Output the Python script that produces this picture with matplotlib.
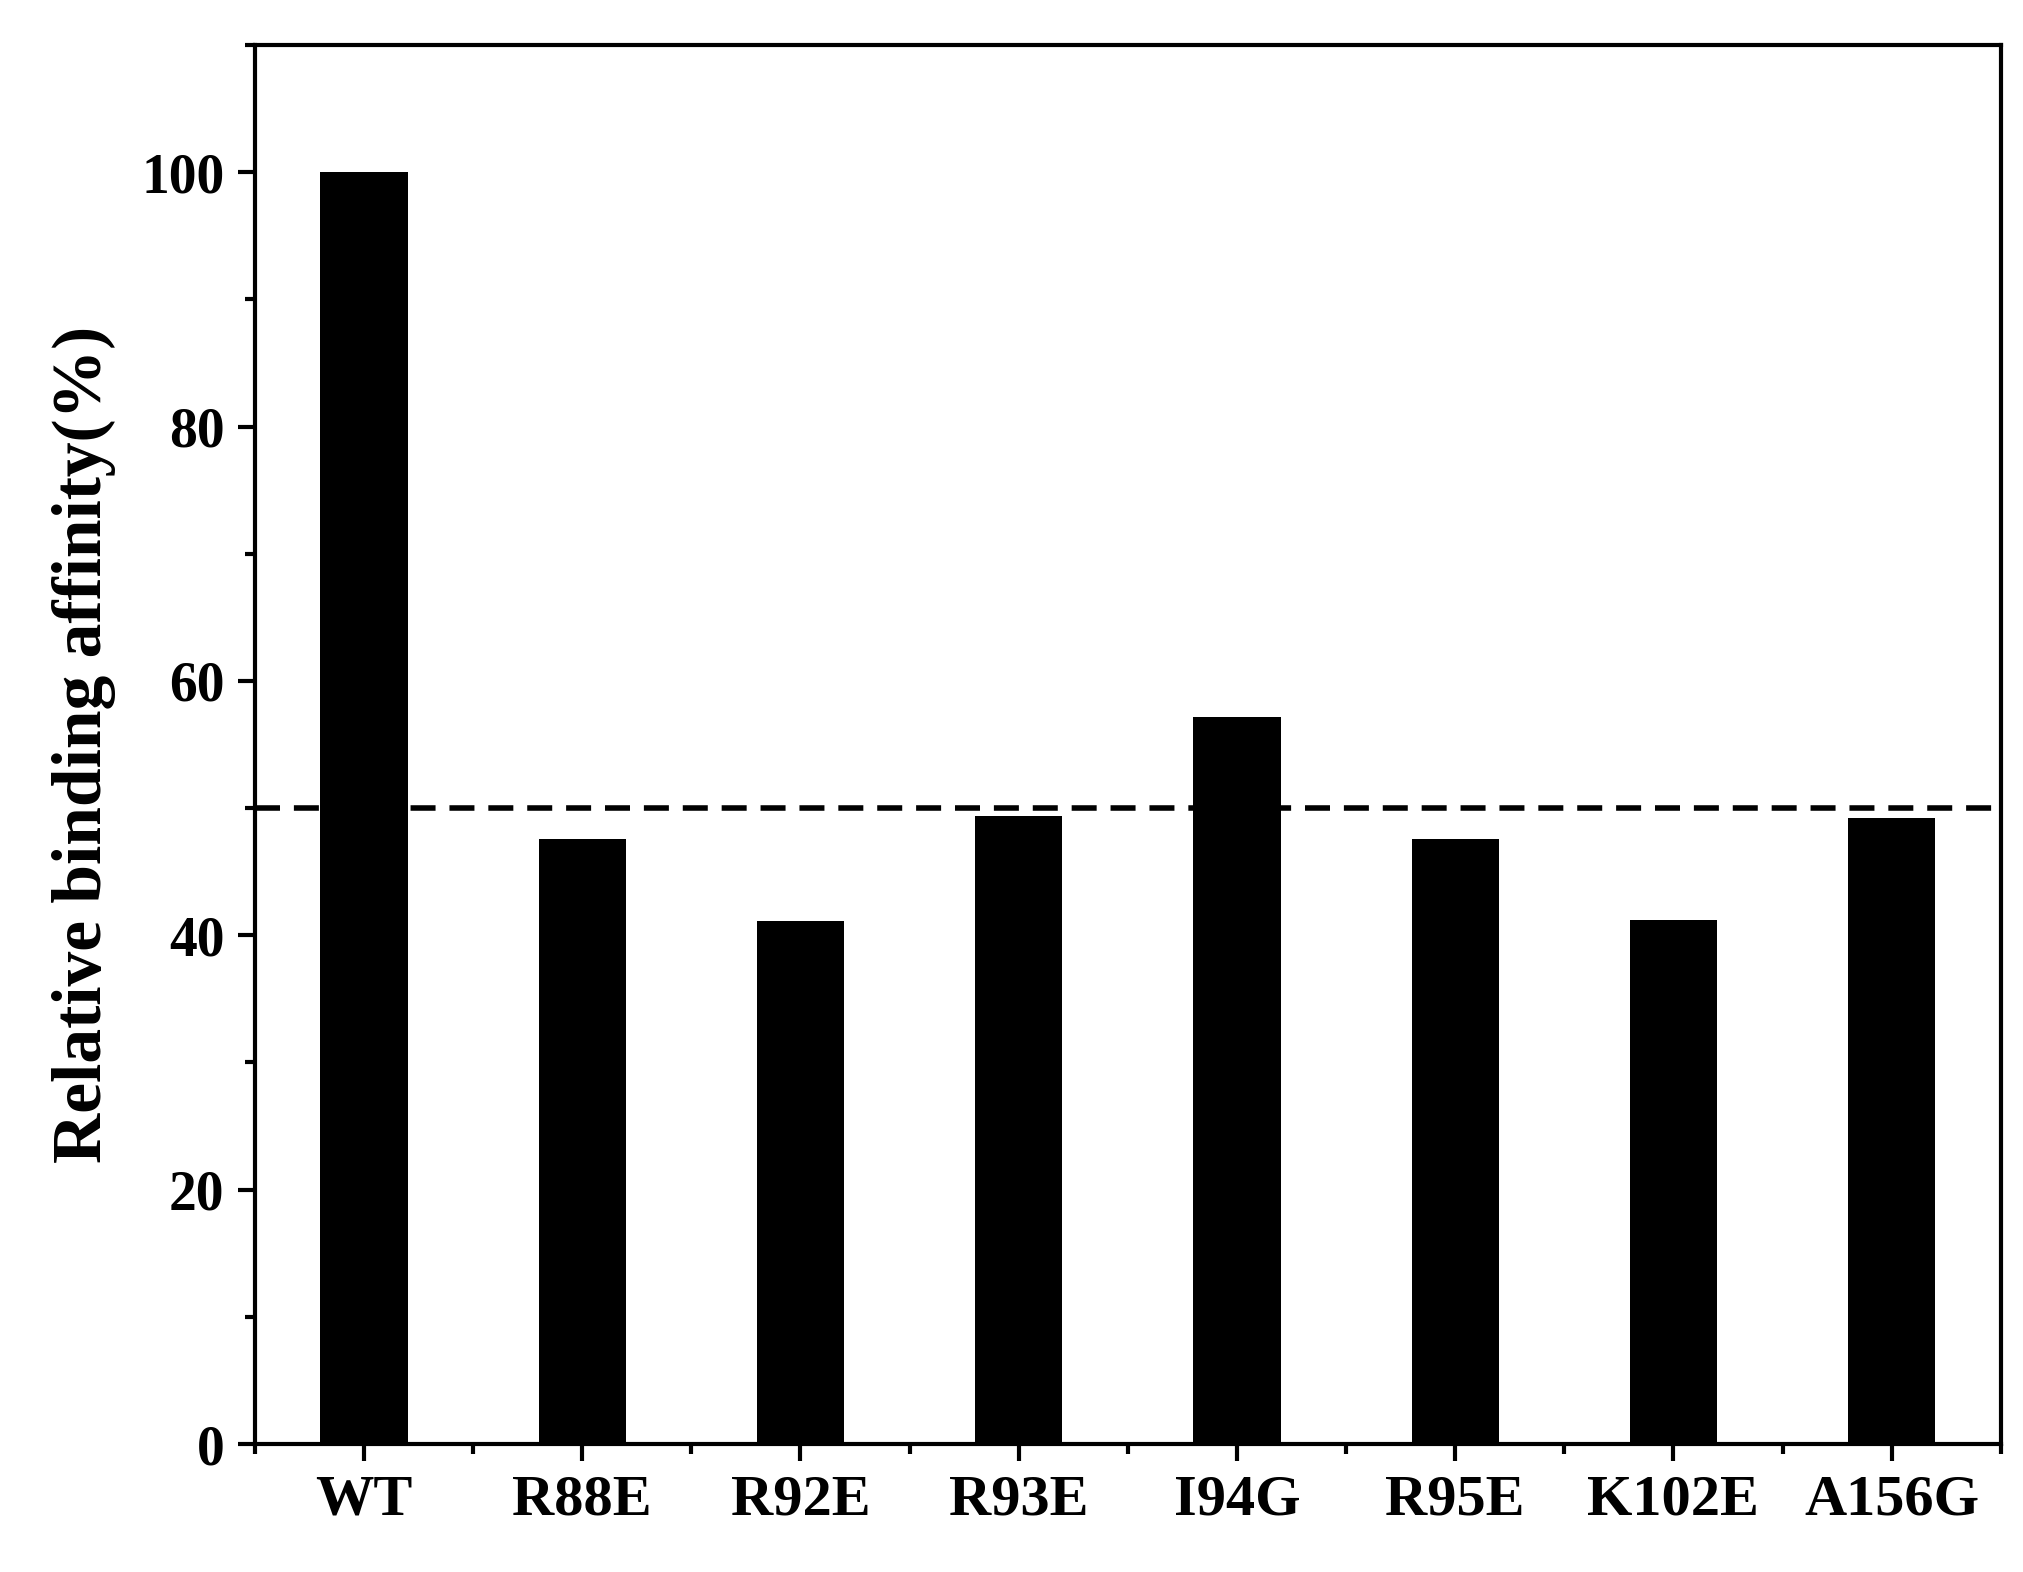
import matplotlib
matplotlib.use("Agg")
import matplotlib.pyplot as plt
from matplotlib.ticker import MultipleLocator, FixedLocator
import numpy as np

categories = ["WT", "R88E", "R92E", "R93E", "I94G", "R95E", "K102E", "A156G"]
values = [100, 47.6, 41.1, 49.4, 57.2, 47.6, 41.2, 49.2]
threshold = 50

plt.rcParams['font.family'] = ['Liberation Serif', 'DejaVu Serif']
plt.rcParams['font.weight'] = 'bold'

fig = plt.figure(figsize=(20.23, 15.72), dpi=100)
ax = fig.add_axes([0.126, 0.0814, 0.863, 0.89])
x = np.arange(len(categories))
ax.bar(x, values, width=0.4, color='black')
ax.axhline(threshold, color='black', linestyle=(0, (4.5, 2.5)), linewidth=4)
ax.set_xlim(-0.5, 7.5)
ax.set_ylim(0, 110)
ax.set_xticks(x)
ax.set_xticklabels(categories, fontsize=42, fontweight='bold')
ax.xaxis.set_minor_locator(FixedLocator(np.arange(-0.5, 7.6, 1.0)))
ax.set_yticks([0, 20, 40, 60, 80, 100])
ax.yaxis.set_minor_locator(MultipleLocator(10))
for lab in ax.get_yticklabels():
    lab.set_fontsize(40); lab.set_fontweight('bold')
ax.tick_params(axis='both', which='major', direction='out', length=12, width=3, pad=10)
ax.tick_params(axis='both', which='minor', direction='out', length=7, width=3)
for s in ax.spines.values():
    s.set_linewidth(3)
ax.set_ylabel("Relative binding affinity(%)", fontsize=50, fontweight='bold', labelpad=18)
fig.savefig("out.png", dpi=100)
